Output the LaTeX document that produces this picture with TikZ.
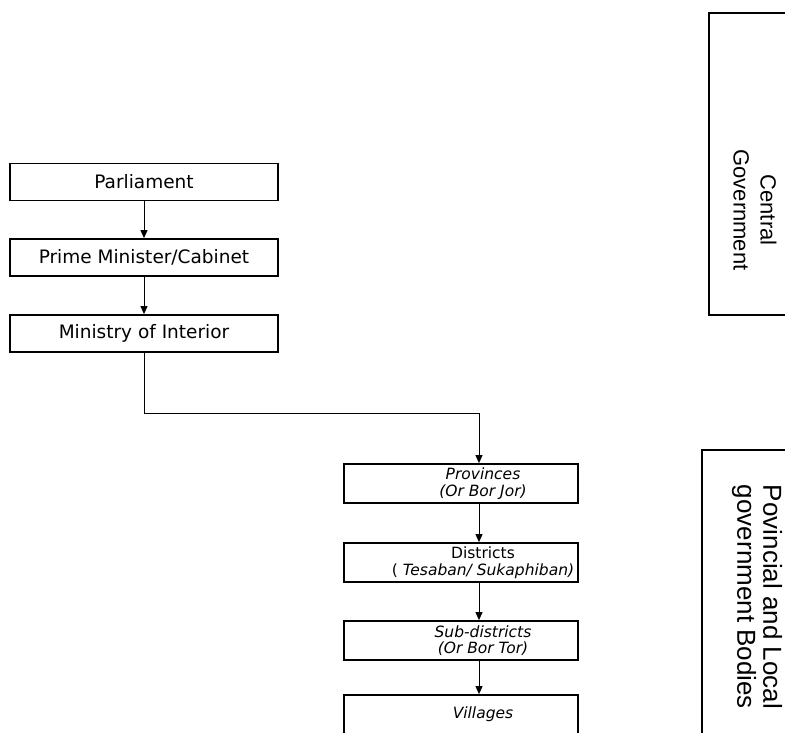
\documentclass[tikz,border=0pt]{standalone}
\usepackage{fontspec}
\setmainfont{DejaVu Sans}
\newfontfamily\arialfont{Liberation Sans}
\usetikzlibrary{positioning, arrows.meta}
% push a line of the lower boxes to the right
\newcommand{\rline}[1]{\hspace*{44pt}#1}

\begin{document}
\begin{tikzpicture}[x=1pt,y=-1pt,>={Triangle[length=8pt,width=7pt]}]
	\tikzstyle{topbox}=[draw=black,line width=1.8pt,minimum width=268pt,minimum height=37pt,inner sep=0pt,font=\fontsize{18.5}{20}\selectfont]
	\tikzstyle{lowbox}=[draw=black,line width=1.8pt,minimum width=234pt,minimum height=39pt,inner sep=0pt,align=center,font=\fontsize{15.5}{16.5}\selectfont]
	\tikzstyle{sidetext}=[rotate=-90,align=center,font=\arialfont\fontsize{22}{27}\selectfont]
	\tikzstyle{link}=[->,line width=1pt]
	\useasboundingbox (0,0) rectangle (785,732);
	% central government
	\node[topbox](parl) at (144,182) {Parliament};
	\node[topbox](pm) at (144,257.5) {Prime Minister/Cabinet};
	\node[topbox](moi) at (144,333.5) {Ministry of Interior};
	% provincial and local bodies
	\node[lowbox](prov) at (461,483.5) {\rline{\itshape Provinces}\\\rline{\itshape (Or Bor Jor)}};
	\node[lowbox](dist) at (461,562.5) {\rline{Districts}\\\rline{(\itshape\ Tesaban/ Sukaphiban)}};
	\node[lowbox](sub) at (461,640.5) {\rline{\itshape Sub-districts}\\\rline{\itshape (Or Bor Tor)}};
	\node[lowbox](vill) at (461,714.5) {\rline{\itshape Villages}};
	\coordinate (bend) at (479,413);
	\draw[link] (parl) -- (pm);
	\draw[link] (pm) -- (moi);
	\draw[link] (moi.south) |- (bend) -- (bend |- prov.north);
	\draw[link] (prov.south -| bend) -- (dist.north -| bend);
	\draw[link] (dist.south -| bend) -- (sub.north -| bend);
	\draw[link] (sub.south -| bend) -- (vill.north -| bend);
	% side groups
	\draw[line width=1.8pt] (820,13) -| (709,315) -- (820,315);
	\node[sidetext](cg) at (755,210) {Central\\Government};
	\draw[line width=1.8pt] (820,450) -| (702,760);
	\node[sidetext,font=\arialfont\fontsize{26}{26}\selectfont](plg) at (757,597) {Povincial and Local\\government Bodies};
\end{tikzpicture}
\end{document}
